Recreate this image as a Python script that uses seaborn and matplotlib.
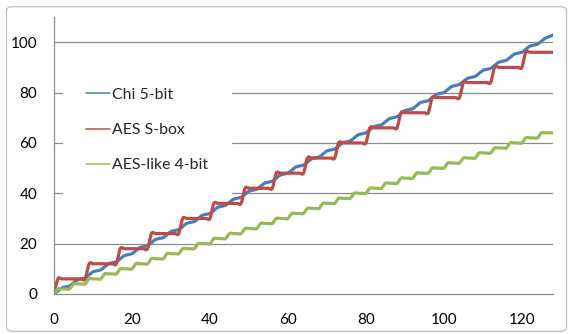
import numpy as np
import pandas as pd
import matplotlib
matplotlib.use("Agg")
import matplotlib.pyplot as plt
import seaborn as sns
from matplotlib.patches import FancyBboxPatch
from matplotlib.lines import Line2D

# ---------------- data ----------------
x_vals = list(range(0, 129))

chi_5bit = [
    0, 1.2, 2.4, 2.8, 3.2, 4.4, 5.6, 6.0, 6.4, 7.6, 8.8, 9.2,
    9.6, 10.8, 12.0, 12.4, 12.8, 14.0, 15.2, 15.6, 16.0, 17.2, 18.4, 18.8,
    19.2, 20.4, 21.6, 22.0, 22.4, 23.6, 24.8, 25.2, 25.6, 26.8, 28.0, 28.4,
    28.8, 30.0, 31.2, 31.6, 32.0, 33.2, 34.4, 34.8, 35.2, 36.4, 37.6, 38.0,
    38.4, 39.6, 40.8, 41.2, 41.6, 42.8, 44.0, 44.4, 44.8, 46.0, 47.2, 47.6,
    48.0, 49.2, 50.4, 50.8, 51.2, 52.4, 53.6, 54.0, 54.4, 55.6, 56.8, 57.2,
    57.6, 58.8, 60.0, 60.4, 60.8, 62.0, 63.2, 63.6, 64.0, 65.2, 66.4, 66.8,
    67.2, 68.4, 69.6, 70.0, 70.4, 71.6, 72.8, 73.2, 73.6, 74.8, 76.0, 76.4,
    76.8, 78.0, 79.2, 79.6, 80.0, 81.2, 82.4, 82.8, 83.2, 84.4, 85.6, 86.0,
    86.4, 87.6, 88.8, 89.2, 89.6, 90.8, 92.0, 92.4, 92.8, 94.0, 95.2, 95.6,
    96.0, 97.2, 98.4, 98.8, 99.2, 100.4, 101.6, 102.2, 102.8, 103.0, 103.0, 103.0,
    103.0,
]

aes_sbox = [
    0, 6, 6, 6, 6, 6, 6, 6, 6,
    12, 12, 12, 12, 12, 12, 12, 12,
    18, 18, 18, 18, 18, 18, 18, 18,
    24, 24, 24, 24, 24, 24, 24, 24,
    30, 30, 30, 30, 30, 30, 30, 30,
    36, 36, 36, 36, 36, 36, 36, 36,
    42, 42, 42, 42, 42, 42, 42, 42,
    48, 48, 48, 48, 48, 48, 48, 48,
    54, 54, 54, 54, 54, 54, 54, 54,
    60, 60, 60, 60, 60, 60, 60, 60,
    66, 66, 66, 66, 66, 66, 66, 66,
    72, 72, 72, 72, 72, 72, 72, 72,
    78, 78, 78, 78, 78, 78, 78, 78,
    84, 84, 84, 84, 84, 84, 84, 84,
    90, 90, 90, 90, 90, 90, 90, 90,
    96, 96, 96, 96, 96, 96, 96, 96,
]

aes_like_4bit = [
    0, 2, 2, 2, 2, 4, 4, 4, 4, 6, 6, 6, 6, 8, 8, 8, 8,
    10, 10, 10, 10, 12, 12, 12, 12, 14, 14, 14, 14, 16, 16, 16, 16,
    18, 18, 18, 18, 20, 20, 20, 20, 22, 22, 22, 22, 24, 24, 24, 24,
    26, 26, 26, 26, 28, 28, 28, 28, 30, 30, 30, 30, 32, 32, 32, 32,
    34, 34, 34, 34, 36, 36, 36, 36, 38, 38, 38, 38, 40, 40, 40, 40,
    42, 42, 42, 42, 44, 44, 44, 44, 46, 46, 46, 46, 48, 48, 48, 48,
    50, 50, 50, 50, 52, 52, 52, 52, 54, 54, 54, 54, 56, 56, 56, 56,
    58, 58, 58, 58, 60, 60, 60, 60, 62, 62, 62, 62, 64, 64, 64, 64,
]

series_names = ["Chi 5-bit", "AES S-box", "AES-like 4-bit"]
colors = ["#4A7EBB", "#BE4B48", "#98B954"]
x_ticks = [0, 20, 40, 60, 80, 100, 120]
y_ticks = [0, 20, 40, 60, 80, 100]


def smooth(xs, ys, n=12):
    """Excel-like smoothed line (Bezier with Catmull-Rom control points)."""
    xs = np.asarray(xs, float)
    ys = np.asarray(ys, float)
    px = np.concatenate([[xs[0]], xs, [xs[-1]]])
    py = np.concatenate([[ys[0]], ys, [ys[-1]]])
    t = np.linspace(0, 1, n, endpoint=False)
    ox, oy = [], []
    for i in range(1, len(px) - 2):
        p0 = np.array([px[i], py[i]])
        p3 = np.array([px[i + 1], py[i + 1]])
        c1 = p0 + (np.array([px[i + 1], py[i + 1]]) - np.array([px[i - 1], py[i - 1]])) / 6
        c2 = p3 - (np.array([px[i + 2], py[i + 2]]) - np.array([px[i], py[i]])) / 6
        b = ((1 - t) ** 3)[:, None] * p0 + (3 * (1 - t) ** 2 * t)[:, None] * c1 \
            + (3 * (1 - t) * t ** 2)[:, None] * c2 + (t ** 3)[:, None] * p3
        ox.extend(b[:, 0]); oy.extend(b[:, 1])
    ox.append(xs[-1]); oy.append(ys[-1])
    return np.array(ox), np.array(oy)


frames = []
for name, ys in zip(series_names, [chi_5bit, aes_sbox, aes_like_4bit]):
    sx, sy = smooth(x_vals, ys)
    frames.append(pd.DataFrame({"x": sx, "y": sy, "series": name, "order": np.arange(len(sx))}))
df = pd.concat(frames, ignore_index=True)

# ---------------- figure ----------------
sns.set_theme(style="white")
plt.rcParams["font.family"] = ["Lato", "DejaVu Sans"]

fig = plt.figure(figsize=(5.73, 3.34), dpi=100)
fig.patch.set_facecolor("white")
border = FancyBboxPatch((0.0113, 0.008), 0.9774, 0.972, boxstyle="round,pad=0,rounding_size=0.012",
                        transform=fig.transFigure, facecolor="none", edgecolor="#BFBFBF",
                        linewidth=0.9, zorder=10)
fig.patches.append(border)

ax = fig.add_axes([0.0942, 0.1198, 0.8710, 0.8292])
ax.set_facecolor("none")

sns.lineplot(data=df, x="x", y="y", hue="series", palette=colors, hue_order=series_names,
             sort=False, estimator=None, units="series", linewidth=2.3, ax=ax, legend=False)

ax.set_xlim(0, 128)
ax.set_ylim(0, 110)
ax.set_xticks(x_ticks)
ax.set_yticks(y_ticks)
ax.set_xlabel("")
ax.set_ylabel("")

for v in y_ticks[1:]:
    ax.axhline(v, color="#8C8C8C", linewidth=0.9, zorder=0.5)

for s in ["top", "right"]:
    ax.spines[s].set_visible(False)
for s in ["left", "bottom"]:
    ax.spines[s].set_color("#8C8C8C")
    ax.spines[s].set_linewidth(0.9)

ax.tick_params(axis="both", direction="inout", length=8, width=0.9, color="#8C8C8C",
               labelsize=11, labelcolor="black")
ax.tick_params(axis="y", pad=8)
ax.tick_params(axis="x", pad=10)

handles = [Line2D([0], [0], color=c, linewidth=1.1) for c in colors]
leg = ax.legend(handles, series_names, loc="upper left", bbox_to_anchor=(0.018, 0.827),
                frameon=True, fontsize=11.4, handlelength=1.55, handletextpad=0.08,
                labelspacing=1.33, borderpad=1.45, borderaxespad=0.0)
leg.get_frame().set_facecolor("white")
leg.get_frame().set_edgecolor("white")
leg.get_frame().set_alpha(1.0)
leg.get_frame().set_boxstyle("square", pad=0)
leg.set_zorder(3)

fig.savefig("out.png", dpi=100, facecolor="white")
